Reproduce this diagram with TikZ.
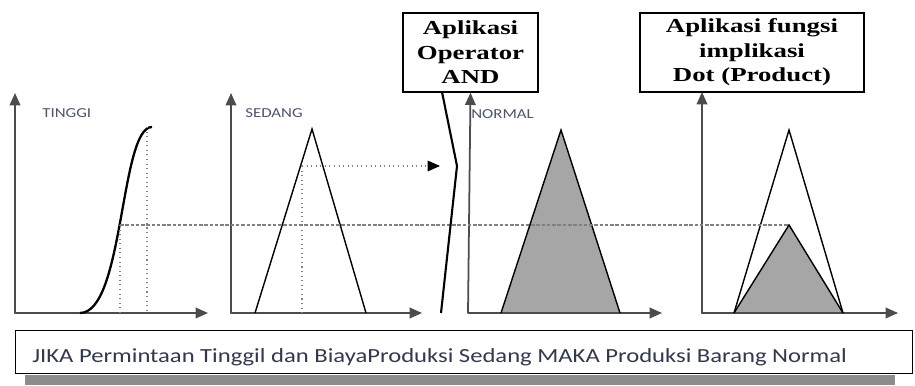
\documentclass[tikz,border=0pt]{standalone}
\usepackage{fontspec}
\setmainfont{Liberation Serif}
\newfontfamily\boxfont[FakeStretch=1.35]{Liberation Serif}
\newfontfamily\calibri[FakeStretch=1.23]{Carlito}
\usepackage{tkz-euclide}
\usetikzlibrary{arrows.meta,calc}
\definecolor{AxisClr}{rgb}{0.3,0.3,0.3}
\definecolor{FillClr}{rgb}{0.65,0.65,0.65}
\definecolor{ShadowClr}{rgb}{0.55,0.55,0.55}
\definecolor{LabelClr}{rgb}{0.3,0.33,0.42}
\definecolor{RuleClr}{rgb}{0.2,0.22,0.3}

\begin{document}
\begin{tikzpicture}[x=0.02cm,y=0.02cm,
  axis/.style={draw=AxisClr,line width=1pt,-{Triangle[length=7pt,width=6pt]}},
  guide/.style={draw=gray,dotted,line width=.6pt},
  level/.style={draw=gray,dash pattern=on 2pt off 1pt,line width=.6pt},
  tri/.style={line width=.8pt},
  rulebox/.style={draw,line width=.8pt,fill=white,align=center,inner sep=2pt,
    font=\boxfont\bfseries\fontsize{11.3}{14}\selectfont},
  setlabel/.style={font=\calibri\fontsize{7.8}{9}\selectfont,text=LabelClr,anchor=west,inner sep=0pt}]
\useasboundingbox (0,0) rectangle (915,385);

% points
\tkzDefPoints{15/72/O1,15/292/Y1,208/72/X1,
  231/72/O2,231/292/Y2,422/72/X2,
  468/72/O3,662/72/X3,
  702/72/O4,702/293/Y4,898/72/X4}
\tkzDefPoints{80/72/S0,152/258/S1,
  255/72/B2,312/256/A2,366/72/C2,
  501/72/B3,561/255/A3,620/72/C3,
  734/72/B4,789/255/A4,843/72/C4,789/160/M4}
\tkzDefPoints{120/160/P1,120/72/Q1,147/258/T1,147/72/R1,
  302/219/P2,302/72/Q2,440/219/E2,
  442/293/Z1,457/219/Z2,441/72/Z3}

% boxes
\node[rulebox,minimum width=2.7cm,minimum height=1.58cm] (andbox) at (470.5,332.5)
  {Aplikasi\\Operator\\AND};
\node[rulebox,minimum width=4.48cm,minimum height=1.58cm] (dotbox) at (752,332.5)
  {Aplikasi fungsi\\implikasi\\Dot (Product)};

% filled areas
\tkzFillPolygon[fill=FillClr](B3,A3,C3)
\tkzFillPolygon[fill=FillClr](B4,M4,C4)

% axes
\tkzDrawSegments[axis](O1,Y1 O1,X1 O2,Y2 O2,X2 O3,X3 O4,Y4 O4,X4)
\draw[axis] (O3) -- (andbox.south);

% sets
\draw[line width=1.3pt] (S0) .. controls (124,72) and (120,258) .. (S1);
\draw[tri] (B2) -- (A2) -- (C2);
\draw[tri] (B3) -- (A3) -- (C3);
\draw[tri] (B4) -- (A4) -- (C4);
\draw[tri] (B4) -- (M4) -- (C4);

% guides
\draw[guide] (T1) -- (R1);
\draw[guide] (P1) -- (Q1);
\draw[guide] (P2) -- (Q2);
\draw[guide,-{Triangle[length=7pt,width=6pt,color=black]}] (P2) -- (E2);
\draw[level] (P1) -- (M4);
\draw[line width=1.2pt] (Z1) -- (Z2) -- (Z3);

% labels
\node[setlabel] (tinggi) at (42,272) {TINGGI};
\node[setlabel] (sedang) at (245,272) {SEDANG};
\node[setlabel] (normal) at (471,271) {NORMAL};

% rule
\fill[ShadowClr] (25,0) rectangle (895,10);
\node[draw,line width=.8pt,fill=white,minimum width=17.94cm,minimum height=0.86cm,
  anchor=north west,inner sep=0pt] (rule) at (15,55) {};
\node[anchor=west,inner sep=0pt,text=RuleClr,font=\calibri\fontsize{11.4}{13}\selectfont]
  (ruletext) at (32,28) {JIKA Permintaan Tinggil dan BiayaProduksi Sedang MAKA Produksi Barang Normal};
\end{tikzpicture}
\end{document}
